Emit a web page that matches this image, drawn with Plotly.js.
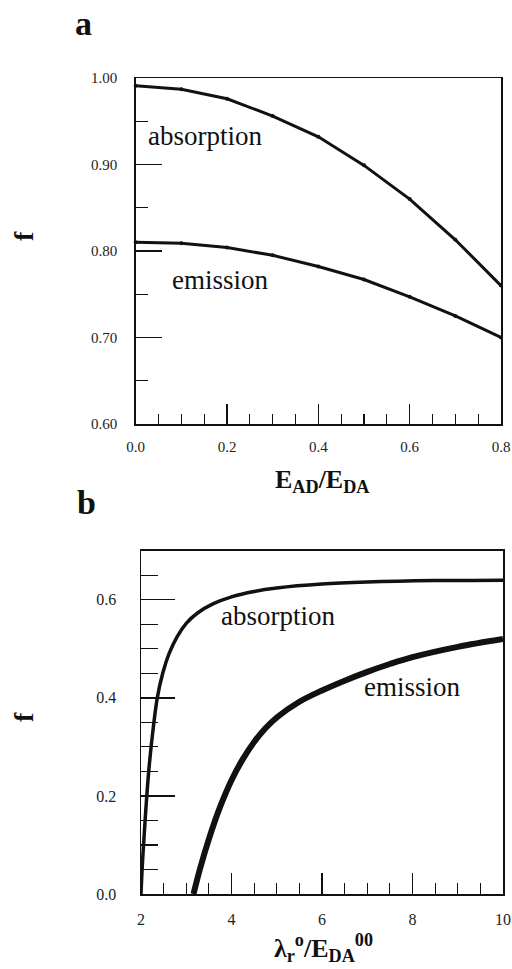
<!DOCTYPE html>
<html>
<head>
<meta charset="utf-8">
<script src="https://cdn.plot.ly/plotly-3.0.1.min.js"></script>
<style>html,body{margin:0;padding:0;background:#fff;}#chart{width:512px;height:969px;}</style>
</head>
<body>
<div id="chart"></div>
<script>
// Panel a data
const ratioA = [0.0, 0.1, 0.2, 0.3, 0.4, 0.5, 0.6, 0.7, 0.8];
const absorptionA = [0.991, 0.987, 0.976, 0.956, 0.932, 0.899, 0.860, 0.813, 0.760];
const emissionA = [0.810, 0.809, 0.804, 0.795, 0.782, 0.767, 0.747, 0.725, 0.700];

// Panel b data
const lambdaAbs = [2.0, 2.03, 2.07, 2.12, 2.18, 2.26, 2.36, 2.48, 2.62, 2.8, 3.0, 3.25, 3.6, 4.0, 4.5, 5.0, 6.0, 7.0, 8.5, 10.0];
const absorptionB = [0.0, 0.06, 0.12, 0.19, 0.26, 0.33, 0.40, 0.45, 0.49, 0.525, 0.552, 0.573, 0.592, 0.606, 0.617, 0.624, 0.632, 0.636, 0.639, 0.640];
const lambdaEm = [3.16, 3.3, 3.5, 3.75, 4.0, 4.25, 4.5, 4.75, 5.0, 5.5, 6.0, 6.5, 7.0, 7.5, 8.0, 9.0, 10.0];
const emissionB = [0.0, 0.05, 0.112, 0.178, 0.232, 0.275, 0.310, 0.338, 0.360, 0.392, 0.415, 0.435, 0.453, 0.469, 0.483, 0.504, 0.520];

const serif = 'Liberation Serif, Times New Roman, serif';
const ink = '#111';

const traces = [
  {x: ratioA, y: absorptionA, xaxis: 'x', yaxis: 'y', mode: 'lines+markers', cliponaxis: false,
   line: {color: ink, width: 3}, marker: {color: ink, size: 4}, name: 'absorption'},
  {x: ratioA, y: emissionA, xaxis: 'x', yaxis: 'y', mode: 'lines+markers', cliponaxis: false,
   line: {color: ink, width: 3}, marker: {color: ink, size: 4}, name: 'emission'},
  {x: lambdaAbs, y: absorptionB, xaxis: 'x2', yaxis: 'y2', mode: 'lines', cliponaxis: false,
   line: {color: ink, width: 3.5, shape: 'spline', smoothing: 1}, name: 'absorption'},
  {x: lambdaEm, y: emissionB, xaxis: 'x2', yaxis: 'y2', mode: 'lines', cliponaxis: false,
   line: {color: ink, width: 6, shape: 'spline', smoothing: 1}, name: 'emission'}
];

function axis(extra) {
  return Object.assign({
    showline: true, mirror: true, linecolor: ink, linewidth: 1.5,
    ticks: 'inside', tickcolor: ink, tickwidth: 1.5,
    showgrid: false, zeroline: false, fixedrange: true,
    tickfont: {family: serif, size: 15, color: '#222'}
  }, extra);
}

const W = 512, H = 969;
const layout = {
  width: W, height: H,
  margin: {l: 0, r: 0, t: 0, b: 0},
  paper_bgcolor: '#fff', plot_bgcolor: '#fff',
  showlegend: false,
  xaxis: axis({domain: [135.7 / W, 501 / W], range: [0, 0.8], dtick: 0.2, tickformat: '.1f',
    ticklen: 20, ticklabelstandoff: 8, anchor: 'y',
    minor: {ticks: 'inside', dtick: 0.05, ticklen: 10, tickwidth: 1.2, tickcolor: ink, showgrid: false}}),
  yaxis: axis({domain: [1 - 424 / H, 1 - 78 / H], range: [0.6, 1.0], dtick: 0.1, tickformat: '.2f',
    ticklen: 26, ticklabelstandoff: 14, anchor: 'x',
    minor: {ticks: 'inside', dtick: 0.05, ticklen: 12, tickwidth: 1.2, tickcolor: ink, showgrid: false}}),
  xaxis2: axis({domain: [141 / W, 503 / W], range: [2, 10], dtick: 2, tickformat: 'd',
    ticklen: 21, ticklabelstandoff: 10, anchor: 'y2',
    tickfont: {family: serif, size: 16, color: '#222'},
    minor: {ticks: 'inside', dtick: 0.5, ticklen: 11, tickwidth: 1.2, tickcolor: ink, showgrid: false}}),
  yaxis2: axis({domain: [1 - 894 / H, 1 - 550.7 / H], range: [0, 0.7], dtick: 0.2, tickformat: '.1f',
    ticklen: 34, ticklabelstandoff: 20, anchor: 'x2',
    tickfont: {family: serif, size: 16, color: '#222'},
    minor: {ticks: 'inside', dtick: 0.05, ticklen: 17, tickwidth: 1.2, tickcolor: ink, showgrid: false}}),
  annotations: [
    {xref: 'paper', yref: 'paper', x: 83 / W, y: 1 - 23 / H, text: '<b>a</b>', showarrow: false,
     xanchor: 'center', yanchor: 'middle', font: {family: serif, size: 34, color: ink}},
    {xref: 'paper', yref: 'paper', x: 86 / W, y: 1 - 502 / H, text: '<b>b</b>', showarrow: false,
     xanchor: 'center', yanchor: 'middle', font: {family: serif, size: 34, color: ink}},
    {xref: 'paper', yref: 'paper', x: 23 / W, y: 1 - 236 / H, text: '<b>f</b>', showarrow: false, textangle: -90,
     xanchor: 'center', yanchor: 'middle', font: {family: serif, size: 28, color: ink}},
    {xref: 'paper', yref: 'paper', x: 23 / W, y: 1 - 717 / H, text: '<b>f</b>', showarrow: false, textangle: -90,
     xanchor: 'center', yanchor: 'middle', font: {family: serif, size: 28, color: ink}},
    {xref: 'paper', yref: 'paper', x: 322 / W, y: 1 - 481 / H, text: '<b>E<sub>AD</sub>/E<sub>DA</sub></b>', showarrow: false,
     xanchor: 'center', yanchor: 'middle', font: {family: serif, size: 26, color: ink}},
    {xref: 'paper', yref: 'paper', x: 323 / W, y: 1 - 948 / H, text: '<b>λ<sub>r</sub><sup>o</sup>/E<sub>DA</sub><sup>00</sup></b>', showarrow: false,
     xanchor: 'center', yanchor: 'middle', font: {family: serif, size: 26, color: ink}},
    {xref: 'x', yref: 'y', x: 0.022, y: 0.933, text: 'absorption', showarrow: false,
     xanchor: 'left', yanchor: 'middle', font: {family: serif, size: 27, color: ink}},
    {xref: 'x', yref: 'y', x: 0.075, y: 0.766, text: 'emission', showarrow: false,
     xanchor: 'left', yanchor: 'middle', font: {family: serif, size: 27, color: ink}},
    {xref: 'x2', yref: 'y2', x: 3.72, y: 0.567, text: 'absorption', showarrow: false,
     xanchor: 'left', yanchor: 'middle', font: {family: serif, size: 27, color: ink}},
    {xref: 'x2', yref: 'y2', x: 6.88, y: 0.422, text: 'emission', showarrow: false,
     xanchor: 'left', yanchor: 'middle', font: {family: serif, size: 27, color: ink}}
  ]
};

Plotly.newPlot('chart', traces, layout, {staticPlot: true, displayModeBar: false});
</script>
</body>
</html>
